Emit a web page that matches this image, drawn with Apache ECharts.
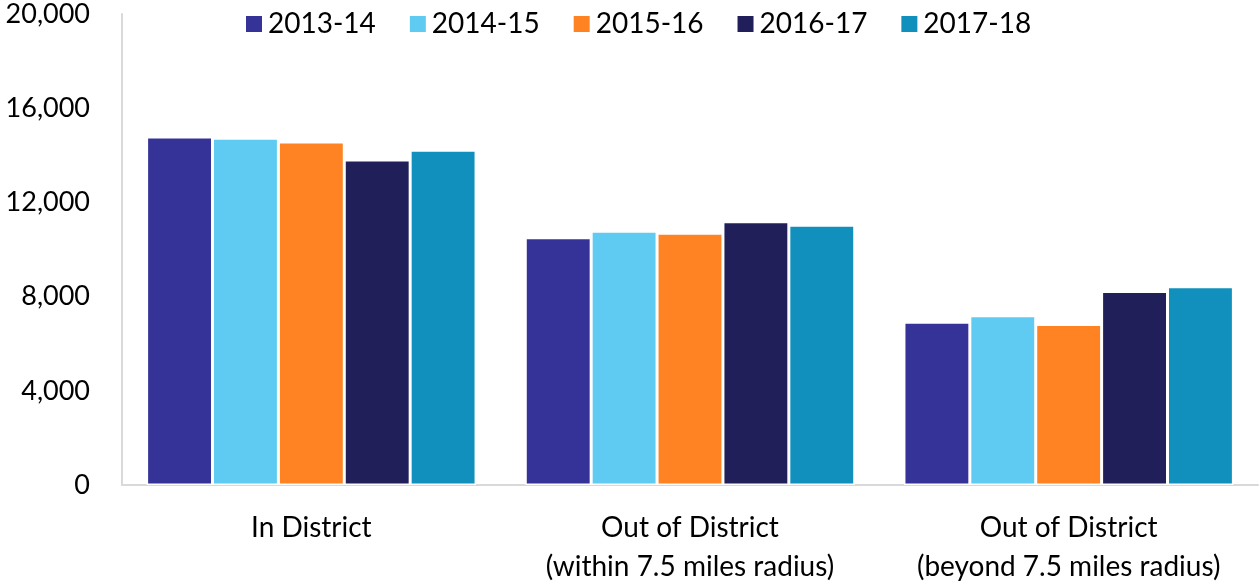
<!DOCTYPE html>
<html>
<head>
<meta charset="utf-8">
<script src="https://cdn.jsdelivr.net/npm/echarts@6/dist/echarts.min.js"></script>
<style>
  html, body { margin: 0; padding: 0; background: #fff; }
  #chart { width: 1260px; height: 581px; }
</style>
</head>
<body>
<div id="chart"></div>
<script>
// categories and years
const categories = ["In District", "Out of District\n(within 7.5 miles radius)", "Out of District\n(beyond 7.5 miles radius)"];
const years = ["2013-14", "2014-15", "2015-16", "2016-17", "2017-18"];

// values per year, one per category
const y2013 = [14780, 10500, 6910];
const y2014 = [14720, 10770, 7190];
const y2015 = [14560, 10690, 6810];
const y2016 = [13800, 11180, 8220];
const y2017 = [14210, 11030, 8420];

const yearColors = ["#353398", "#5FCBF2", "#FF8322", "#201F5A", "#1190BE"];

const seriesValues = [y2013, y2014, y2015, y2016, y2017];
const font = "Lato, 'Open Sans', sans-serif";

let chart = echarts.init(document.getElementById("chart"));
chart.setOption({
  animation: false,
  textStyle: { fontFamily: font },
  legend: {
    top: 5,
    left: 239,
    itemWidth: 18,
    itemHeight: 18,
    itemGap: 32,
    icon: "rect",
    textStyle: { fontSize: 28, color: "#000", fontFamily: font },
    data: years
  },
  grid: { left: 122, right: 2, top: 14, bottom: 96, outerBoundsMode: "none", containLabel: false },
  xAxis: {
    type: "category",
    data: categories,
    axisLine: { lineStyle: { color: "#d9d9d9", width: 2 } },
    axisTick: { show: false },
    axisLabel: { fontSize: 28, color: "#000", margin: 23, lineHeight: 39, interval: 0 }
  },
  yAxis: {
    type: "value",
    min: 0,
    max: 20000,
    interval: 4000,
    axisLine: { show: true, lineStyle: { color: "#d9d9d9", width: 2 } },
    axisTick: { show: false },
    splitLine: { show: false },
    axisLabel: {
      fontSize: 27,
      color: "#000",
      margin: 32,
      formatter: v => v.toLocaleString("en-US")
    }
  },
  series: years.map((name, i) => ({
    name: name,
    type: "bar",
    data: seriesValues[i],
    barGap: "0%",
    barCategoryGap: "13%",
    itemStyle: { color: yearColors[i], borderColor: "#fff", borderWidth: 1.5 }
  }))
});
</script>
</body>
</html>
